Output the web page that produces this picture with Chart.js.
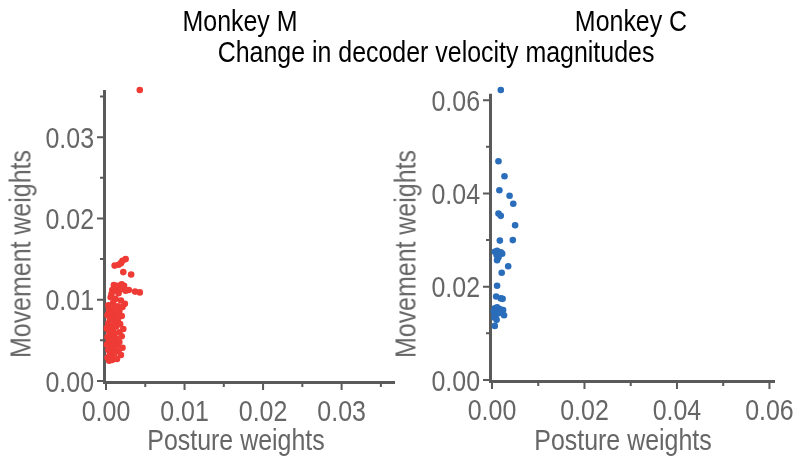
<!DOCTYPE html>
<html><head><meta charset="utf-8">
<script src="https://cdn.jsdelivr.net/npm/chart.js@4"></script>
<style>
html,body{margin:0;padding:0;background:#fff;}
#wrap{position:relative;width:800px;height:464px;overflow:hidden;font-family:"Liberation Sans",Arial,sans-serif;}
.box{position:absolute;top:0;width:400px;height:464px;}
.t{position:absolute;transform:translate(-50%,-50%) scaleX(0.86);white-space:nowrap;font-size:29px;line-height:1;}
.g{color:#666;}
.rot{transform:translate(-50%,-50%) rotate(-90deg) scaleX(0.86);}
</style></head>
<body><div id="wrap">
<div class="box" style="left:0"><canvas id="cM" width="400" height="464"></canvas></div>
<div class="box" style="left:400px"><canvas id="cC" width="400" height="464"></canvas></div>
<div class="t" style="left:240px;top:21px;color:#000">Monkey M</div>
<div class="t" style="left:631px;top:21px;color:#000">Monkey C</div>
<div class="t" style="left:436px;top:52px;color:#000">Change in decoder velocity magnitudes</div>
<div class="t g" style="left:236px;top:440px">Posture weights</div>
<div class="t g" style="left:623px;top:440px">Posture weights</div>
<div class="t g rot" style="left:21px;top:254px">Movement weights</div>
<div class="t g rot" style="left:406px;top:254px">Movement weights</div>
</div>
<script>
// ---- Data ----
const monkeyM_posture = [0.0043,
 0.0025,0.0021,0.0019,0.0016,0.0011,0.0022,0.0032,
 0.0010,0.0015,0.0020,0.0023,0.0008,0.0013,0.0019,0.0025,0.0029,0.0037,0.0043,0.0007,0.0016,
 0.0006,0.0012,0.0019,0.0024,0.0009,0.0003,0.0015,0.0021,0.0010,0.0004,0.0017,0.0007,0.0013,0.0002,0.0020,0.0009,0.0005,0.0015,0.0011,0.0003,0.0018,0.0007,0.0013,0.0001,0.0022,0.0009,0.0004,0.0017,0.0011,0.0006,0.0020,0.0002,0.0013,0.0008,0.0004,0.0017,0.0010,0.0001,0.0014,0.0006,0.0021,0.0009,0.0003,0.0016,0.0011,0.0005,0.0019,0.0007,0.0002,0.0012,0.0008,0.0004,0.0014];
const monkeyM_movement = [0.0358,
 0.0150,0.0148,0.0145,0.0143,0.0142,0.0134,0.0131,
 0.0118,0.0117,0.0119,0.0117,0.0112,0.0111,0.0113,0.0111,0.0112,0.0110,0.0109,0.0107,0.0108,
 0.0103,0.0101,0.0099,0.0095,0.0096,0.0093,0.0092,0.0091,0.0089,0.0087,0.0086,0.0084,0.0082,0.0081,0.0080,0.0078,0.0076,0.0075,0.0073,0.0071,0.0070,0.0068,0.0067,0.0065,0.0064,0.0063,0.0061,0.0060,0.0058,0.0056,0.0055,0.0054,0.0052,0.0051,0.0049,0.0048,0.0046,0.0045,0.0044,0.0042,0.0041,0.0039,0.0038,0.0037,0.0035,0.0033,0.0032,0.0030,0.0029,0.0028,0.0026,0.0025,0.0027];
const monkeyC_posture = [0.0019,0.0014,0.0027,0.0016,0.0038,0.0046,0.0014,0.0019,0.0050,0.0017,0.0045,
 0.0006,0.0011,0.0019,0.0022,0.0010,0.0014,0.0011,0.0035,0.0021,0.0011,0.0009,0.0019,0.0023,
 0.0006,0.0011,0.0017,0.0024,0.0004,0.0009,0.0014,0.0026,0.0005,0.0010,0.0006];
const monkeyC_movement = [0.0622,0.0469,0.0437,0.0407,0.0395,0.0378,0.0357,0.0352,0.0332,0.0299,0.0300,
 0.0275,0.0277,0.0274,0.0271,0.0268,0.0263,0.0257,0.0244,0.0230,0.0202,0.0179,0.0175,0.0174,
 0.0154,0.0156,0.0152,0.0150,0.0146,0.0141,0.0143,0.0139,0.0134,0.0129,0.0116];

const M_MAJOR = [0, 0.01, 0.02, 0.03];
const M_MINOR = [0.005, 0.015, 0.025, 0.035];
const C_MAJOR = [0, 0.02, 0.04, 0.06];
const C_MINOR = [0.01, 0.03, 0.05];
const M_XMAX = 0.0368, M_YMAX = 0.0360, M_YAXIS_TOP = 0.0358;
const C_XMAX = 0.0612, C_YMAX = 0.0626, C_YAXIS_TOP = 0.0614;

const RED = '#ef3b35', BLUE = '#2a6dba', AXIS = '#5a5a5a', TXT = '#666666';
const TICK_FONT = '29px "Liberation Sans", Arial, sans-serif';
const SQUEEZE = 0.86;

const axisPlugin = {
  id: 'axisTicks',
  beforeDatasetsDraw(chart, args, o) {
    const {ctx, chartArea: a, scales: {x, y}} = chart;
    const x0 = x.getPixelForValue(0), y0 = y.getPixelForValue(0);
    const yTop = y.getPixelForValue(o.axisTop);
    ctx.save();
    ctx.strokeStyle = AXIS;
    ctx.lineWidth = 3;
    ctx.beginPath();
    ctx.moveTo(x0 - 1.5, yTop); ctx.lineTo(x0 - 1.5, y0 + 1.5);
    ctx.moveTo(x0 - 3, y0 + 1.5); ctx.lineTo(a.right, y0 + 1.5);
    ctx.stroke();
    ctx.lineWidth = 2;
    ctx.beginPath();
    o.major.forEach(v => {
      const px = x.getPixelForValue(v); ctx.moveTo(px, y0 + 1.5); ctx.lineTo(px, y0 + 9);
      const py = y.getPixelForValue(v); ctx.moveTo(x0 - 1.5, py); ctx.lineTo(x0 - 9, py);
    });
    o.minor.forEach(v => {
      if (v <= o.xmax) { const px = x.getPixelForValue(v); ctx.moveTo(px, y0 + 1.5); ctx.lineTo(px, y0 + 6); }
      if (v <= o.axisTop) { const py = y.getPixelForValue(v); ctx.moveTo(x0 - 1.5, py); ctx.lineTo(x0 - 6, py); }
    });
    ctx.stroke();
    // tick labels (slightly condensed text)
    ctx.font = TICK_FONT;
    ctx.fillStyle = TXT;
    ctx.textBaseline = 'alphabetic';
    x.ticks.forEach(t => {
      const px = x.getPixelForValue(t.value);
      ctx.save(); ctx.translate(px, y0 + 40); ctx.scale(SQUEEZE, 1);
      ctx.textAlign = 'center'; ctx.fillText(t.label, 0, 0); ctx.restore();
    });
    y.ticks.forEach(t => {
      const py = y.getPixelForValue(t.value);
      ctx.save(); ctx.translate(x0 - 12, py + 10.5); ctx.scale(SQUEEZE, 1);
      ctx.textAlign = 'right'; ctx.fillText(t.label, 0, 0); ctx.restore();
    });
    ctx.restore();
  }
};

function makeChart(id, xs, ys, color, major, minor, xmax, ymax, axisTop, yWidth, xHeight, pad) {
  return new Chart(document.getElementById(id), {
    type: 'scatter',
    data: {datasets: [{
      data: xs.map((v, i) => ({x: v, y: ys[i]})),
      backgroundColor: color, borderWidth: 0, pointRadius: 3.3, pointHoverRadius: 3.3, clip: false
    }]},
    options: {
      responsive: false, animation: false, devicePixelRatio: 1,
      layout: {padding: pad},
      plugins: {legend: {display: false}, tooltip: {enabled: false}, axisTicks: {major, minor, xmax, axisTop}},
      scales: {
        x: {type: 'linear', min: 0, max: xmax,
          afterBuildTicks: s => { s.ticks = major.map(v => ({value: v})); },
          afterFit: s => { s.height = xHeight; },
          grid: {display: false}, border: {display: false},
          ticks: {display: false, autoSkip: false, callback: v => Number(v).toFixed(2)}},
        y: {type: 'linear', min: 0, max: ymax,
          afterBuildTicks: s => { s.ticks = major.map(v => ({value: v})); },
          afterFit: s => { s.width = yWidth; },
          grid: {display: false}, border: {display: false},
          ticks: {display: false, autoSkip: false, callback: v => Number(v).toFixed(2)}}
      }
    },
    plugins: [axisPlugin]
  });
}

// left panel: 0.0360 spans 381 -> 88 ; right panel: 0.0626 spans 380 -> 88
makeChart('cM', monkeyM_posture, monkeyM_movement, RED, M_MAJOR, M_MINOR, M_XMAX, M_YMAX, M_YAXIS_TOP, 106, 83, {left: 0, right: 5, top: 88.4, bottom: 0});
makeChart('cC', monkeyC_posture, monkeyC_movement, BLUE, C_MAJOR, C_MINOR, C_XMAX, C_YMAX, C_YAXIS_TOP, 92, 84, {left: 0, right: 25, top: 88.1, bottom: 0});
</script>
</body></html>
